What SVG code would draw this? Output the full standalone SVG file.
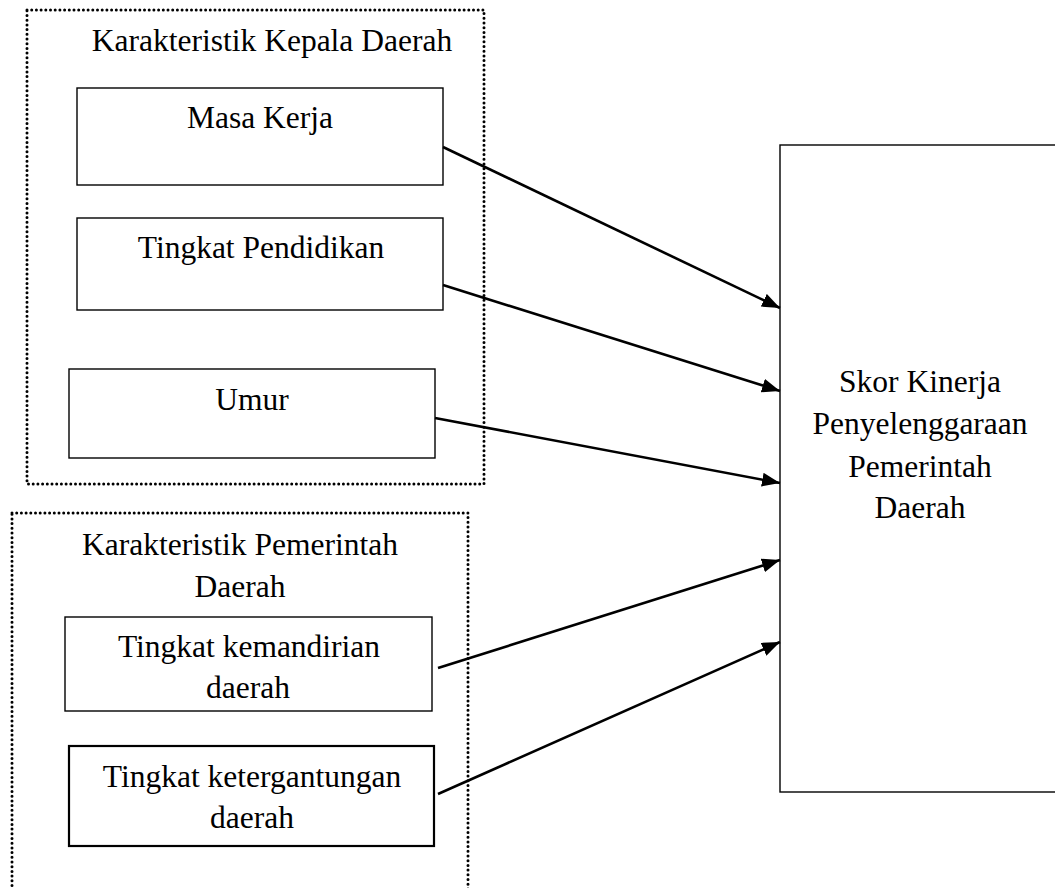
<svg xmlns="http://www.w3.org/2000/svg" width="1055" height="888" viewBox="0 0 1055 888">
<style>
text{font-family:"Liberation Serif","Times New Roman",serif;font-size:31.5px;fill:#000;text-anchor:middle}
.dot{fill:none;stroke:#000;stroke-width:3;stroke-dasharray:0 4.7;stroke-linecap:round}
.box{fill:#fff;stroke:#000;stroke-width:1.4}
.conn{stroke:#000;stroke-width:2.6;fill:none;marker-end:url(#ah)}
</style>
<defs>
<marker id="ah" markerWidth="18" markerHeight="14" refX="18" refY="7" orient="auto" markerUnits="userSpaceOnUse">
<path d="M0,0 L18,7 L0,14 Z" fill="#000"/>
</marker>
</defs>
<rect width="1055" height="888" fill="#fff"/>
<g id="group-kepala">
<rect class="dot" x="27" y="10" width="457" height="474"/>
<text x="272" y="51">Karakteristik Kepala Daerah</text>
</g>
<g id="group-pemerintah">
<rect class="dot" x="12" y="513" width="456" height="400"/>
<text x="240" y="555">Karakteristik Pemerintah</text>
<text x="240" y="597">Daerah</text>
</g>
<g id="masa-kerja">
<rect class="box" x="77" y="88" width="366" height="97"/>
<text x="260" y="128">Masa Kerja</text>
</g>
<g id="tingkat-pendidikan">
<rect class="box" x="77" y="218" width="366" height="92"/>
<text x="261" y="258">Tingkat Pendidikan</text>
</g>
<g id="umur">
<rect class="box" x="69" y="369" width="366" height="89"/>
<text x="252" y="410">Umur</text>
</g>
<g id="kemandirian">
<rect class="box" x="65" y="617" width="367" height="94"/>
<text x="249" y="657">Tingkat kemandirian</text>
<text x="248" y="698">daerah</text>
</g>
<g id="ketergantungan">
<rect class="box" x="69" y="746" width="365" height="100" style="stroke-width:2.2"/>
<text x="252" y="787">Tingkat ketergantungan</text>
<text x="252" y="828">daerah</text>
</g>
<g id="skor-kinerja">
<rect class="box" x="780" y="145" width="290" height="647"/>
<text x="920" y="392">Skor Kinerja</text>
<text x="920" y="434">Penyelenggaraan</text>
<text x="920" y="477">Pemerintah</text>
<text x="920" y="518">Daerah</text>
</g>
<g id="connectors">
<line class="conn" x1="443" y1="147" x2="780" y2="308"/>
<line class="conn" x1="443" y1="285" x2="780" y2="391"/>
<line class="conn" x1="435" y1="418" x2="780" y2="483"/>
<line class="conn" x1="438" y1="668" x2="780" y2="560"/>
<line class="conn" x1="438" y1="794" x2="780" y2="642"/>
</g>
</svg>
